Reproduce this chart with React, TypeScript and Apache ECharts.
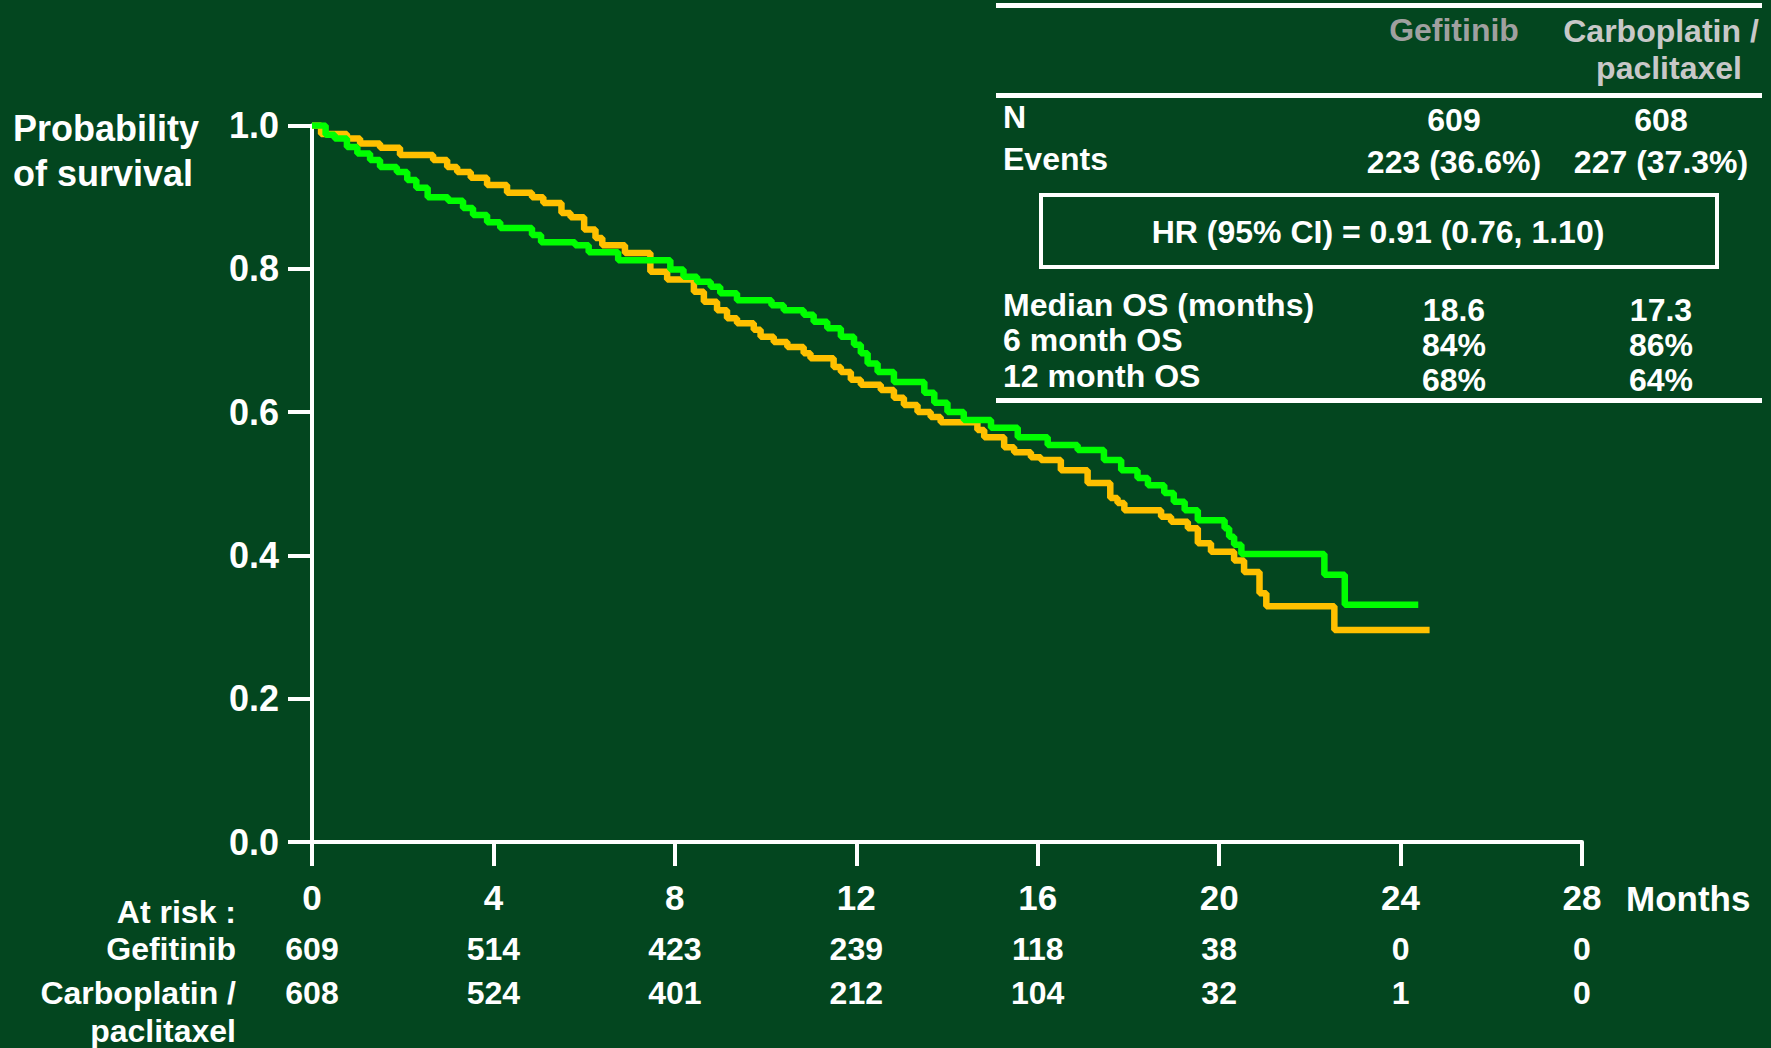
import React, { useEffect, useRef } from "react";
import * as echarts from "echarts";

// Kaplan-Meier steps: time (months) at which survival drops to the given value
const gefTimes = [0, 0.3, 0.5, 0.77, 1.0, 1.28, 1.5, 1.87, 2.1, 2.3, 2.55, 3.0, 3.33, 3.55, 3.86, 4.15, 4.85, 5.05, 5.8, 6.1, 6.75, 7.9, 8.19, 8.49, 8.79, 9.0, 9.37, 10.13, 10.4, 10.84, 11.06, 11.36, 11.66, 11.95, 12.1, 12.25, 12.47, 12.83, 13.5, 13.72, 14.01, 14.37, 14.97, 15.56, 16.22, 16.88, 17.46, 17.84, 18.2, 18.43, 18.79, 19.0, 19.24, 19.53, 20.12, 20.22, 20.33, 20.49, 22.32, 22.77, 24.39];
const gefSurv = [1.0, 0.987, 0.982, 0.97, 0.961, 0.952, 0.942, 0.935, 0.924, 0.913, 0.9, 0.895, 0.885, 0.875, 0.865, 0.857, 0.847, 0.837, 0.833, 0.823, 0.812, 0.799, 0.789, 0.782, 0.775, 0.766, 0.756, 0.749, 0.742, 0.736, 0.726, 0.717, 0.705, 0.694, 0.682, 0.668, 0.656, 0.642, 0.627, 0.613, 0.6, 0.589, 0.578, 0.565, 0.554, 0.547, 0.533, 0.519, 0.508, 0.498, 0.487, 0.475, 0.463, 0.449, 0.438, 0.426, 0.415, 0.402, 0.373, 0.331, 0.331];

const carTimes = [0, 0.2, 0.77, 1.06, 1.5, 1.94, 2.67, 2.98, 3.2, 3.5, 3.86, 4.3, 4.85, 5.1, 5.5, 5.7, 6.0, 6.25, 6.4, 6.9, 7.46, 7.83, 8.42, 8.64, 8.93, 9.15, 9.37, 9.74, 9.89, 10.18, 10.48, 10.84, 10.99, 11.5, 11.66, 11.88, 12.1, 12.54, 12.83, 13.05, 13.35, 13.64, 13.86, 14.67, 14.82, 15.26, 15.48, 15.85, 16.07, 16.51, 17.1, 17.6, 17.76, 17.91, 18.72, 18.94, 19.31, 19.53, 19.82, 20.33, 20.55, 20.89, 21.04, 22.54, 24.64];
const carSurv = [1.0, 0.988, 0.982, 0.975, 0.969, 0.959, 0.952, 0.942, 0.935, 0.927, 0.917, 0.906, 0.9, 0.892, 0.878, 0.872, 0.855, 0.843, 0.833, 0.822, 0.796, 0.785, 0.768, 0.754, 0.742, 0.731, 0.724, 0.715, 0.705, 0.698, 0.691, 0.682, 0.675, 0.663, 0.656, 0.645, 0.638, 0.631, 0.62, 0.61, 0.6, 0.593, 0.586, 0.575, 0.565, 0.551, 0.544, 0.537, 0.533, 0.519, 0.501, 0.48, 0.473, 0.463, 0.454, 0.447, 0.438, 0.417, 0.405, 0.393, 0.377, 0.347, 0.329, 0.296, 0.296];

const xTicks = [0, 4, 8, 12, 16, 20, 24, 28];
const atRiskGef = [609, 514, 423, 239, 118, 38, 0, 0];
const atRiskCar = [608, 524, 401, 212, 104, 32, 1, 0];

const tableLabels = ["N", "Events", "Median OS (months)", "6 month OS", "12 month OS"];
const tableGef = ["609", "223 (36.6%)", "18.6", "84%", "68%"];
const tableCar = ["608", "227 (37.3%)", "17.3", "86%", "64%"];
const hrText = "HR (95% CI) = 0.91 (0.76, 1.10)";

const BG = "#03461F";
const GREEN = "#00FF00";
const ORANGE = "#FFC000";
const FONT = "'Liberation Sans', Arial, Helvetica, sans-serif";

export default function App() {
  const ref = useRef<HTMLDivElement>(null);

  useEffect(() => {
    document.body.style.margin = "0";
    const chart = echarts.init(ref.current!, null, { renderer: "svg" });

    const gefData = gefTimes.map((t, i) => [t, gefSurv[i]]);
    const carData = carTimes.map((t, i) => [t, carSurv[i]]);

    const txt = (x: number, y: number, text: string, opts: any = {}) => ({
      type: "text",
      x,
      y,
      silent: true,
      style: {
        text,
        fill: opts.fill || "#FFFFFF",
        font: `bold ${opts.size || 32}px ${FONT}`,
        textAlign: opts.align || "left",
        textVerticalAlign: "middle",
      },
    });

    chart.setOption({
      animation: false,
      backgroundColor: BG,
      grid: { left: 312, top: 125.5, width: 1270, height: 716.5 },
      xAxis: {
        type: "value",
        min: 0,
        max: 28,
        interval: 4,
        axisLine: { show: true, lineStyle: { color: "#FFFFFF", width: 4 } },
        axisTick: { show: true, length: 24, lineStyle: { color: "#FFFFFF", width: 4 } },
        axisLabel: {
          color: "#FFFFFF",
          fontFamily: FONT,
          fontWeight: "bold",
          fontSize: 35,
          lineHeight: 35,
          margin: 38,
        },
        splitLine: { show: false },
      },
      yAxis: {
        type: "value",
        min: 0,
        max: 1,
        interval: 0.2,
        axisLine: { show: true, lineStyle: { color: "#FFFFFF", width: 4 } },
        axisTick: { show: true, length: 24, lineStyle: { color: "#FFFFFF", width: 4 } },
        axisLabel: {
          color: "#FFFFFF",
          fontFamily: FONT,
          fontWeight: "bold",
          fontSize: 36,
          margin: 33,
          formatter: (v: number) => v.toFixed(1),
        },
        splitLine: { show: false },
      },
      series: [
        {
          name: "Carboplatin / paclitaxel",
          type: "line",
          step: "end",
          symbol: "none",
          data: carData,
          lineStyle: { color: ORANGE, width: 6.5 },
          z: 2,
        },
        {
          name: "Gefitinib",
          type: "line",
          step: "end",
          symbol: "none",
          data: gefData,
          lineStyle: { color: GREEN, width: 6.5 },
          z: 3,
        },
      ],
    });

    const gx = (t: number) => chart.convertToPixel({ xAxisIndex: 0 }, t) as number;

    const colGef = 1454;
    const colCar = 1661;
    const rowY = [120, 162, 310, 345, 380];
    const labelY = [117, 159, 305, 340, 376];

    const graphics: any[] = [
      // y-axis title
      txt(13, 128, "Probability", { size: 36 }),
      txt(13, 173, "of survival", { size: 36 }),
      // x axis unit
      txt(1626, 898, "Months", { size: 35 }),
      // at risk
      txt(236, 912, "At risk :", { align: "right" }),
      txt(236, 949, "Gefitinib", { align: "right" }),
      txt(236, 993, "Carboplatin /", { align: "right" }),
      txt(236, 1031, "paclitaxel", { align: "right" }),
      // table rules
      { type: "rect", shape: { x: 996, y: 3, width: 766, height: 5 }, style: { fill: "#FFFFFF" }, silent: true },
      { type: "rect", shape: { x: 996, y: 93, width: 766, height: 5 }, style: { fill: "#FFFFFF" }, silent: true },
      { type: "rect", shape: { x: 996, y: 398, width: 766, height: 5 }, style: { fill: "#FFFFFF" }, silent: true },
      // HR box
      {
        type: "rect",
        shape: { x: 1041, y: 195, width: 676, height: 72 },
        style: { fill: "none", stroke: "#FFFFFF", lineWidth: 4 },
        silent: true,
      },
      txt(1378, 232, hrText, { align: "center" }),
      // headers
      txt(colGef, 30, "Gefitinib", { align: "center", fill: "#A0A0A0" }),
      txt(colCar, 31, "Carboplatin /", { align: "center", fill: "#C8C8C8" }),
      txt(1669, 68, "paclitaxel", { align: "center", fill: "#C8C8C8" }),
    ];

    tableLabels.forEach((l, i) => {
      graphics.push(txt(1003, labelY[i], l));
      graphics.push(txt(colGef, rowY[i], tableGef[i], { align: "center" }));
      graphics.push(txt(colCar, rowY[i], tableCar[i], { align: "center" }));
    });

    xTicks.forEach((t, i) => {
      const x = gx(t);
      graphics.push(txt(x, 949, String(atRiskGef[i]), { align: "center" }));
      graphics.push(txt(x, 993, String(atRiskCar[i]), { align: "center" }));
    });

    chart.setOption({ graphic: graphics });

    return () => chart.dispose();
  }, []);

  return (
    <div
      ref={ref}
      style={{ position: "absolute", left: 0, top: 0, width: 1771, height: 1048 }}
    />
  );
}
